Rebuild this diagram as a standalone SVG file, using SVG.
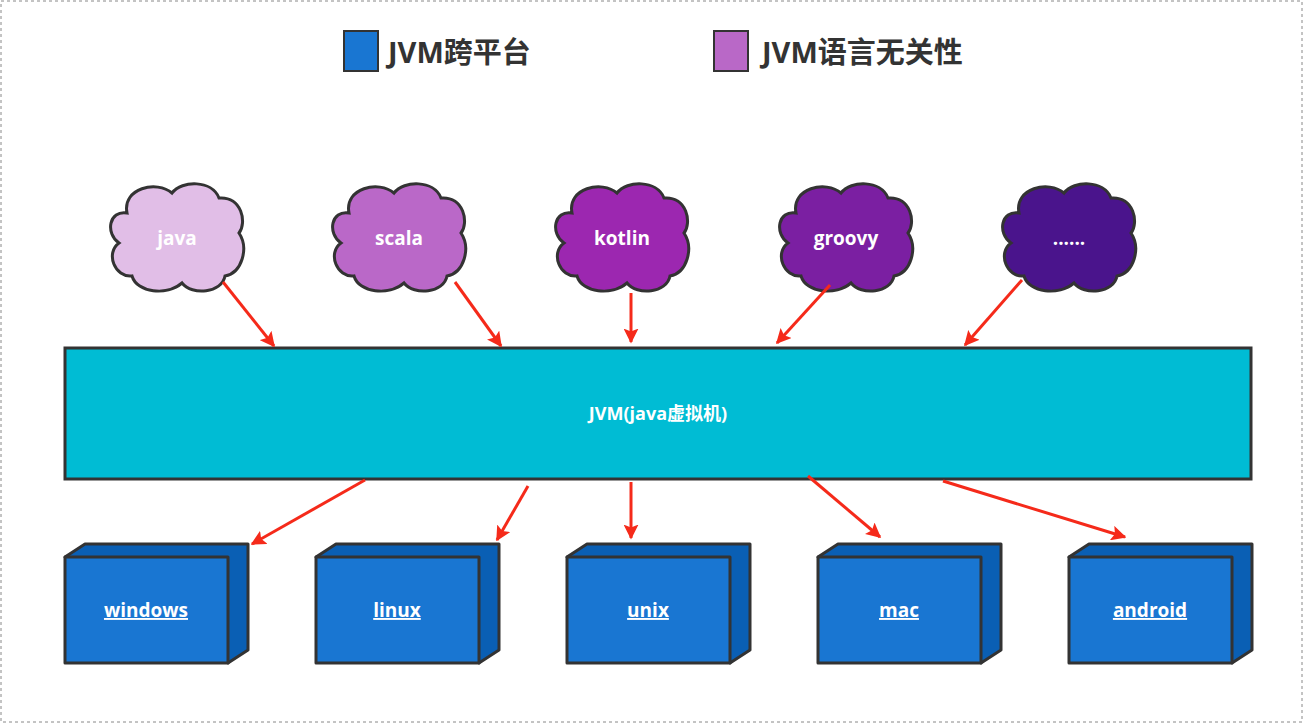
<svg xmlns="http://www.w3.org/2000/svg" width="1303" height="723" viewBox="0 0 1303 723">
<style>
text{font-family:"Open Sans","Noto Sans CJK SC",sans-serif;font-weight:bold;fill:#fff;text-anchor:middle}
.leg{fill:#333;font-size:29px;text-anchor:start}
.cl{stroke:#333;stroke-width:3}
.bx{stroke:#333;stroke-width:3;stroke-linejoin:round}
.u{text-decoration:underline;font-size:19px}
.c line{stroke:#f52a1a;stroke-width:3;marker-end:url(#ah)}
</style>
<defs>
<marker id="ah" viewBox="0 0 10 10" refX="9" refY="5" markerWidth="5" markerHeight="5" orient="auto" markerUnits="strokeWidth"><path d="M0,0 L10,5 L0,10 L2,5 Z" fill="#f52a1a"/></marker>
<path id="cloud" d="M -50,-25 C -55,-50 -20,-58 -5,-45 C 5,-58 35,-58 42,-40 C 65,-42 70,-15 62,-5 C 72,10 65,35 48,38 C 45,55 15,58 5,45 C -10,58 -40,55 -45,38 C -62,40 -72,15 -58,5 C -72,-5 -68,-28 -50,-25 Z"/>
<g id="box">
<path d="M0,13 L20,0 L183,0 L183,106 L163,119 Z" fill="#0a5fb4" class="bx"/>
<rect x="0" y="13" width="163" height="106" fill="#1976d2" class="bx"/>
</g>
</defs>
<rect x="1" y="1" width="1301" height="721" fill="#fff" stroke="#888" stroke-dasharray="3,3"/>
<g id="legend">
<rect x="344" y="31" width="34" height="40" fill="#1976d2" stroke="#333" stroke-width="2"/>
<text class="leg" x="388" y="63">JVM跨平台</text>
<rect x="714" y="31" width="34" height="40" fill="#b968c7" stroke="#333" stroke-width="2"/>
<text class="leg" x="762" y="63">JVM语言无关性</text>
</g>
<g id="n-java"><use href="#cloud" x="177" y="238" fill="#e1bee7" class="cl"/><text x="177" y="245" font-size="19">java</text></g>
<g id="n-scala"><use href="#cloud" x="399" y="238" fill="#ba68c8" class="cl"/><text x="399" y="245" font-size="19">scala</text></g>
<g id="n-kotlin"><use href="#cloud" x="622" y="238" fill="#9c27b0" class="cl"/><text x="622" y="245" font-size="19">kotlin</text></g>
<g id="n-groovy"><use href="#cloud" x="846" y="238" fill="#7b1fa2" class="cl"/><text x="846" y="245" font-size="19">groovy</text></g>
<g id="n-more"><use href="#cloud" x="1069" y="238" fill="#4a148c" class="cl"/><text x="1069" y="245" font-size="19">......</text></g>
<g id="n-jvm"><rect x="65" y="348" width="1186" height="131" fill="#00bcd4" stroke="#333" stroke-width="3"/><text x="658" y="420" font-size="18">JVM(java虚拟机)</text></g>
<g id="n-windows"><use href="#box" x="65" y="544"/><text class="u" x="146" y="617">windows</text></g>
<g id="n-linux"><use href="#box" x="316" y="544"/><text class="u" x="397" y="617">linux</text></g>
<g id="n-unix"><use href="#box" x="567" y="544"/><text class="u" x="648" y="617">unix</text></g>
<g id="n-mac"><use href="#box" x="818" y="544"/><text class="u" x="899" y="617">mac</text></g>
<g id="n-android"><use href="#box" x="1069" y="544"/><text class="u" x="1150" y="617">android</text></g>
<g class="c" id="connectors">
<line x1="223" y1="282" x2="274" y2="346"/>
<line x1="455" y1="282" x2="501" y2="346"/>
<line x1="631" y1="293" x2="631" y2="342"/>
<line x1="830" y1="285" x2="777" y2="343"/>
<line x1="1022" y1="280" x2="965" y2="345"/>
<line x1="365" y1="480" x2="252" y2="544"/>
<line x1="528" y1="486" x2="497" y2="540"/>
<line x1="631" y1="482" x2="631" y2="538"/>
<line x1="808" y1="476" x2="880" y2="537"/>
<line x1="943" y1="481" x2="1125" y2="537"/>
</g>
</svg>
